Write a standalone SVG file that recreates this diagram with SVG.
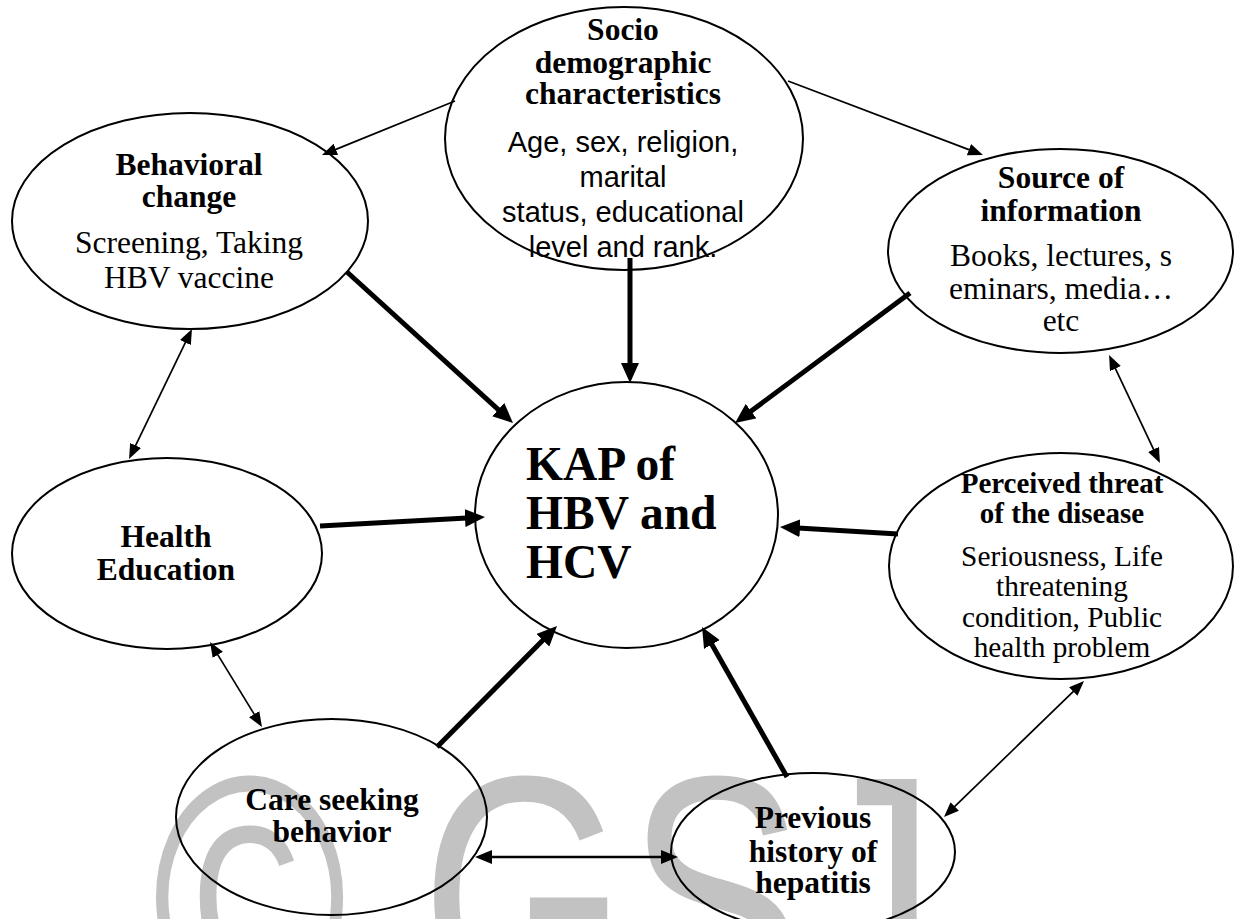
<svg xmlns="http://www.w3.org/2000/svg" width="1241" height="919" viewBox="0 0 1241 919">
<style>
.node ellipse{fill:none;stroke:#000;stroke-width:2}
.t{font-family:"Liberation Serif","Times New Roman",serif;font-weight:bold;font-size:31.5px;text-anchor:middle;fill:#000}
.b{font-family:"Liberation Serif","Times New Roman",serif;font-size:31.5px;text-anchor:middle;fill:#000}
.s{font-family:"Liberation Sans",Arial,sans-serif;font-size:29px;text-anchor:middle;fill:#000}
.k{font-family:"Liberation Serif","Times New Roman",serif;font-weight:bold;font-size:47.5px;fill:#000}
.thick{stroke:#000;stroke-width:5;fill:none;marker-end:url(#ah)}
.thin{stroke:#000;stroke-width:1.7;fill:none;marker-end:url(#at)}
.both{marker-start:url(#at)}
.mid{stroke:#000;stroke-width:2.4;fill:none;marker-start:url(#am);marker-end:url(#am)}
.wm{font-family:"Liberation Sans",Arial,sans-serif;font-size:265px;fill:#c2c2c2}
</style>
<defs>
<marker id="ah" markerUnits="userSpaceOnUse" markerWidth="20" markerHeight="18" viewBox="0 0 20 18" refX="2" refY="9" orient="auto"><path d="M0,0L20,9L0,18z" fill="#000"/></marker>
<marker id="at" markerUnits="userSpaceOnUse" markerWidth="15" markerHeight="12" viewBox="0 0 15 12" refX="2" refY="6" orient="auto-start-reverse"><path d="M0,0L15,6L0,12z" fill="#000"/></marker>
<marker id="am" markerUnits="userSpaceOnUse" markerWidth="17" markerHeight="14" viewBox="0 0 17 14" refX="2" refY="7" orient="auto-start-reverse"><path d="M0,0L17,7L0,14z" fill="#000"/></marker>
</defs>
<rect width="1241" height="919" fill="#fff"/>
<g id="watermark">
<text class="wm" x="152" y="0" transform="matrix(1,0,0,1.3,0,1016)">© GSJ</text>
</g>
<g id="connectors">
<line class="thick" x1="347" y1="272" x2="499.7" y2="410.9"/>
<line class="thick" x1="630" y1="258" x2="630" y2="365"/>
<line class="thick" x1="910" y1="293" x2="749.5" y2="412.3"/>
<line class="thick" x1="320" y1="526" x2="467" y2="518"/>
<line class="thick" x1="898" y1="534" x2="798" y2="528.1"/>
<line class="thick" x1="437" y1="747" x2="544.3" y2="638.8"/>
<line class="thick" x1="787" y1="777" x2="710.9" y2="642.7"/>
<line class="thin" x1="455" y1="101" x2="334" y2="150.1"/>
<line class="thin" x1="788" y1="81" x2="970.8" y2="150.4"/>
<line class="thin both" x1="186.3" y1="340.7" x2="134.7" y2="447.3"/>
<line class="thin both" x1="1114.6" y1="366.8" x2="1154.4" y2="451.2"/>
<line class="thin both" x1="216.8" y1="653.1" x2="255.2" y2="715.9"/>
<line class="thin both" x1="1074.7" y1="690.1" x2="953.3" y2="807.9"/>
<line class="mid" x1="490" y1="857" x2="663" y2="857"/>
</g>
<g id="socio" class="node">
<ellipse cx="624" cy="138.5" rx="179" ry="131.5"/>
<text class="t" x="623" y="40">Socio</text>
<text class="t" x="623" y="73">demographic</text>
<text class="t" x="623" y="104">characteristics</text>
<text class="s" x="623" y="152">Age, sex, religion,</text>
<text class="s" x="623" y="187">marital</text>
<text class="s" x="623" y="222">status, educational</text>
<text class="s" x="623" y="257">level and rank.</text>
</g>
<g id="behavioral" class="node">
<ellipse cx="190" cy="221" rx="178" ry="108"/>
<text class="t" x="189" y="175">Behavioral</text>
<text class="t" x="189" y="207">change</text>
<text class="b" x="189" y="253">Screening, Taking</text>
<text class="b" x="189" y="288">HBV vaccine</text>
</g>
<g id="source" class="node">
<ellipse cx="1060.5" cy="251" rx="172.5" ry="102"/>
<text class="t" x="1061" y="188">Source of</text>
<text class="t" x="1061" y="221">information</text>
<text class="b" x="1061" y="266">Books, lectures, s</text>
<text class="b" x="1061" y="299">eminars, media…</text>
<text class="b" x="1061" y="331">etc</text>
</g>
<g id="kap" class="node">
<ellipse cx="626.5" cy="515" rx="151.5" ry="133"/>
<text class="k" x="526" y="480">KAP of</text>
<text class="k" x="526" y="529">HBV and</text>
<text class="k" x="526" y="578">HCV</text>
</g>
<g id="health" class="node">
<ellipse cx="167" cy="553.5" rx="155" ry="95.5"/>
<text class="t" x="166" y="547">Health</text>
<text class="t" x="166" y="580">Education</text>
</g>
<g id="perceived" class="node">
<ellipse cx="1061" cy="566" rx="172" ry="113"/>
<text class="t" x="1062" y="493" style="font-size:29px">Perceived threat</text>
<text class="t" x="1062" y="523" style="font-size:29px">of the disease</text>
<text class="b" x="1062" y="566" style="font-size:29.3px">Seriousness, Life</text>
<text class="b" x="1062" y="596" style="font-size:29.3px">threatening</text>
<text class="b" x="1062" y="627" style="font-size:29.3px">condition, Public</text>
<text class="b" x="1062" y="657" style="font-size:29.3px">health problem</text>
</g>
<g id="care" class="node">
<ellipse cx="331.5" cy="817" rx="155.5" ry="98"/>
<text class="t" x="332" y="810">Care seeking</text>
<text class="t" x="332" y="842">behavior</text>
</g>
<g id="previous" class="node">
<ellipse cx="813" cy="852" rx="142" ry="79"/>
<text class="t" x="813" y="828">Previous</text>
<text class="t" x="813" y="862">history of</text>
<text class="t" x="813" y="893">hepatitis</text>
</g>
</svg>
